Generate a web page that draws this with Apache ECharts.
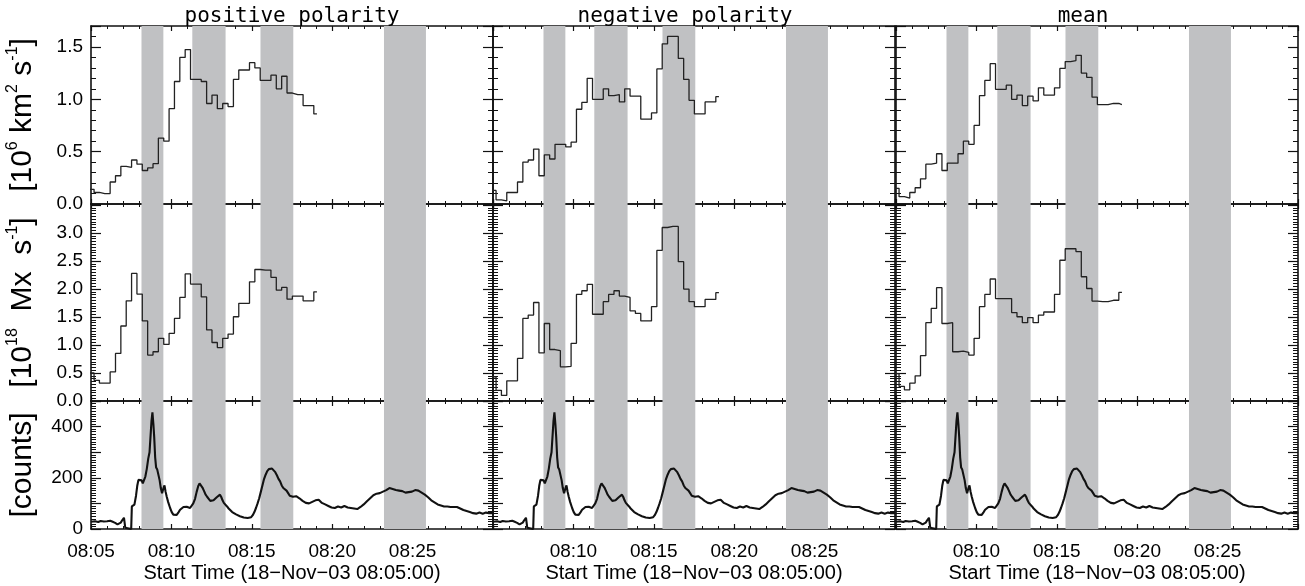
<!DOCTYPE html>
<html>
<head>
<meta charset="utf-8">
<script src="https://cdn.jsdelivr.net/npm/echarts@6/dist/echarts.min.js"></script>
<style>
html, body { margin: 0; padding: 0; background: #fff; }
#main { width: 1305px; height: 586px; }
</style>
</head>
<body>
<div id="main"></div>
<script>
// x axis: minutes after 08:05:00
var tickLabels = ['08:05', '08:10', '08:15', '08:20', '08:25'];
var xName = 'Start Time (18\u2212Nov\u221203 08:05:00)';
var panelTitles = ['positive polarity', 'negative polarity', 'mean'];
var titleCenters = [287, 680, 1078];

// shaded intervals (minutes after 08:05)
var bands = [[3.14, 4.50], [6.30, 8.37], [10.54, 12.58], [18.22, 20.83]];

// stepped curves: one value per 20 s bin, first bin starts before 08:05
var stepStart = 0.19, stepCadence = 1 / 3, stepEnd = 14.05;

// [10^6 km^2 s^-1]
var posArea = [0.14, 0.11, 0.10, 0.10, 0.21, 0.27, 0.36, 0.35, 0.42, 0.38, 0.32, 0.345, 0.385, 0.63, 0.60,
  0.91, 1.17, 1.40, 1.475, 1.19, 1.19, 1.17, 0.96, 1.04, 0.91, 0.96, 0.93, 1.19, 1.28, 1.28, 1.35, 1.30,
  1.18, 1.18, 1.23, 1.10, 1.22, 1.06, 1.045, 1.045, 0.94, 0.94, 0.86];
var negArea = [0.13, 0.04, 0.03, 0.11, 0.11, 0.21, 0.40, 0.42, 0.525, 0.27, 0.47, 0.43, 0.57, 0.57, 0.545,
  0.59, 0.905, 0.97, 1.20, 1.00, 1.00, 1.10, 1.035, 1.045, 0.975, 1.10, 1.03, 1.03, 0.81, 0.81, 0.87, 1.29,
  1.53, 1.60, 1.60, 1.39, 1.19, 0.99, 0.86, 0.86, 0.975, 0.975, 1.025];
var meanArea = [0.15, 0.07, 0.057, 0.11, 0.155, 0.24, 0.38, 0.39, 0.48, 0.32, 0.39, 0.39, 0.48, 0.60, 0.57,
  0.75, 1.035, 1.18, 1.34, 1.095, 1.095, 1.135, 1.0, 1.04, 0.94, 1.03, 0.985, 1.11, 1.04, 1.04, 1.11, 1.295,
  1.36, 1.37, 1.42, 1.25, 1.21, 1.02, 0.95, 0.95, 0.96, 0.96, 0.95];

// [10^18 Mx s^-1]
var posFlux = [0.50, 0.37, 0.32, 0.32, 0.52, 0.85, 1.34, 1.79, 2.28, 1.91, 1.43, 0.82, 0.88, 1.12, 1.01,
  1.21, 1.475, 1.85, 2.27, 2.09, 2.09, 1.86, 1.27, 1.045, 0.955, 1.12, 1.195, 1.505, 1.745, 1.745, 2.13, 2.35,
  2.34, 2.34, 2.21, 1.98, 2.03, 1.82, 1.875, 1.875, 1.79, 1.79, 1.95];
var negFlux = [0.43, 0.19, 0.10, 0.36, 0.36, 0.76, 1.475, 1.535, 1.76, 0.86, 1.385, 0.92, 0.90, 0.61, 0.62,
  1.03, 1.905, 1.97, 2.085, 1.55, 1.55, 1.775, 1.905, 1.97, 1.875, 1.85, 1.61, 1.565, 1.43, 1.43, 1.685, 2.69,
  3.10, 3.12, 3.12, 2.49, 2.0, 1.775, 1.685, 1.685, 1.815, 1.815, 1.935];
var meanFlux = [0.49, 0.26, 0.20, 0.32, 0.45, 0.81, 1.40, 1.655, 2.025, 1.385, 1.40, 0.88, 0.89, 0.87, 0.82,
  1.12, 1.685, 1.905, 2.18, 1.83, 1.83, 1.83, 1.58, 1.505, 1.40, 1.49, 1.40, 1.535, 1.59, 1.59, 1.905, 2.515,
  2.72, 2.72, 2.67, 2.22, 2.01, 1.785, 1.775, 1.775, 1.80, 1.80, 1.94];

// [counts] (same light curve in every column)
var countTimes = [0.00, 0.25, 0.45, 0.60, 0.80, 1.00, 1.20, 1.35, 1.50, 1.65, 1.75, 1.85, 1.95, 2.05, 2.10,
  2.13, 2.16, 2.50, 2.54, 2.62, 2.70, 2.80, 2.88, 2.95, 3.05, 3.15, 3.22, 3.30, 3.38, 3.47, 3.56, 3.64, 3.70,
  3.76, 3.82, 3.88, 3.93, 3.99, 4.05, 4.12, 4.19, 4.27, 4.34, 4.42, 4.50, 4.57, 4.64, 4.71, 4.80, 4.92, 5.02,
  5.12, 5.22, 5.33, 5.44, 5.54, 5.65, 5.75, 5.85, 5.95, 6.05, 6.16, 6.26, 6.36, 6.47, 6.57, 6.67, 6.75, 6.84,
  6.93, 7.02, 7.12, 7.22, 7.32, 7.42, 7.52, 7.62, 7.72, 7.82, 7.92, 8.02, 8.10, 8.18, 8.26, 8.36, 8.46, 8.56,
  8.66, 8.78, 8.90, 9.02, 9.14, 9.26, 9.38, 9.50, 9.62, 9.74, 9.86, 9.96, 10.06, 10.16, 10.26, 10.36, 10.46,
  10.56, 10.66, 10.76, 10.86, 10.96, 11.06, 11.16, 11.26, 11.36, 11.46, 11.56, 11.66, 11.76, 11.86, 11.96,
  12.06, 12.16, 12.26, 12.36, 12.46, 12.56, 12.66, 12.76, 12.86, 12.96, 13.06, 13.16, 13.26, 13.36, 13.46,
  13.56, 13.66, 13.76, 13.86, 13.96, 14.06, 14.16, 14.26, 14.36, 14.46, 14.56, 14.66, 14.76, 14.86, 14.96,
  15.06, 15.16, 15.26, 15.36, 15.46, 15.56, 15.66, 15.76, 15.86, 15.96, 16.06, 16.16, 16.26, 16.36, 16.46,
  16.56, 16.66, 16.76, 16.86, 16.96, 17.06, 17.16, 17.26, 17.36, 17.46, 17.56, 17.66, 17.76, 17.86, 17.96,
  18.06, 18.16, 18.26, 18.36, 18.46, 18.56, 18.66, 18.76, 18.86, 18.96, 19.06, 19.16, 19.26, 19.36, 19.46,
  19.56, 19.66, 19.76, 19.86, 19.96, 20.06, 20.16, 20.26, 20.36, 20.46, 20.56, 20.66, 20.76, 20.86, 20.96,
  21.06, 21.16, 21.26, 21.36, 21.46, 21.56, 21.66, 21.76, 21.86, 21.96, 22.06, 22.16, 22.26, 22.36, 22.46,
  22.56, 22.66, 22.76, 22.86, 22.96, 23.06, 23.16, 23.26, 23.36, 23.46, 23.56, 23.66, 23.76, 23.86, 23.96,
  24.06, 24.16, 24.26, 24.36, 24.46, 24.56, 24.66, 24.76, 24.86, 24.96, 25.00];
var countValues = [28, 30, 27, 31, 29, 30, 32, 28, 24, 18, 16, 25, 35, 44, 40,
  5, 0, 0, 88, 92, 95, 130, 170, 192, 195, 190, 178, 172, 205, 235, 275, 300, 360,
  420, 456, 410, 360, 280, 240, 232, 225, 190, 160, 140, 158, 170, 145, 126, 105, 82, 66,
  56, 52, 55, 65, 75, 82, 86, 90, 87, 83, 82, 88, 100, 118, 145, 168, 178, 172,
  162, 150, 135, 126, 118, 110, 106, 112, 118, 124, 128, 134, 125, 112, 102, 95, 88, 80,
  74, 66, 60, 57, 53, 50, 47, 45, 44, 43, 42, 46, 54, 66, 82, 100, 120,
  145, 170, 195, 212, 226, 234, 238, 236, 230, 222, 210, 196, 186, 170, 160,
  156, 150, 140, 130, 128, 126, 124, 128, 122, 120, 116, 110, 106, 102, 104,
  100, 102, 106, 108, 112, 110, 114, 108, 102, 98, 96, 92, 90, 86, 84,
  86, 82, 84, 88, 86, 84, 88, 90, 86, 84, 86, 82, 84, 80, 82,
  78, 82, 86, 90, 96, 102, 108, 114, 120, 126, 132, 136, 138, 136, 140,
  144, 146, 150, 152, 156, 160, 154, 156, 150, 152, 148, 150, 146, 148, 144,
  142, 146, 144, 148, 146, 150, 152, 148, 150, 146, 142, 138, 134, 130, 124,
  118, 112, 108, 104, 100, 96, 94, 92, 90, 88, 86, 88, 84, 86, 88,
  86, 90, 86, 84, 80, 78, 74, 72, 70, 68, 66, 64, 62, 64, 60,
  62, 64, 62, 60, 62, 64, 60, 62, 60, 62, 60];

var yNames = [
  '{b|[10}{s|6}{b| km}{s|2}{b| s}{s|-1}{b|]}',
  '{b|[10}{s|18}{b|  Mx  s}{s|-1}{b|]}',
  '{b|[counts]}'
];
// largest labelled value in each row
var yLabelTop = [1.5, 3.0, 400];

// layout
var colLeft = [91, 493, 896], colWidth = 402;
var rowTop = [26, 204, 401], rowHeight = [178, 197, 128];
var yMax = [1.7, 3.52, 500], yStep = [0.5, 0.5, 100], yMinorSplit = [5, 10, 10];
var stepCurves = [[posArea, negArea, meanArea], [posFlux, negFlux, meanFlux]];

function stepPoints(vals) {
  var pts = vals.map(function (v, i) { return [stepStart + (i - 1) * stepCadence, v]; });
  pts.push([stepEnd, vals[vals.length - 1]]);
  return pts;
}

var axisColor = '#111';
var labelFont = 'Liberation Sans';

var grids = [], xAxes = [], yAxes = [], series = [], titles = [];

for (var r = 0; r < 3; r++) {
  for (var c = 0; c < 3; c++) {
    var g = r * 3 + c;
    grids.push({
      left: colLeft[c], top: rowTop[r], width: colWidth, height: rowHeight[r],
      show: false, outerBoundsMode: 'none', containLabel: false
    });
    (function (r, c) {
      var xLab = {
        show: r === 2, color: '#000', fontSize: 19, fontFamily: labelFont, margin: 13,
        showMinLabel: true, showMaxLabel: false,
        formatter: function (v) {
          var i = Math.round(v / 5);
          if (Math.abs(v - i * 5) > 1e-6 || i >= tickLabels.length) return '';
          if (c > 0 && i === 0) return '';
          return tickLabels[i];
        }
      };
      ['bottom', 'top'].forEach(function (pos) {
        xAxes.push({
          type: 'value', gridIndex: g, position: pos, min: 0, max: 25, interval: 5,
          axisLine: { show: true, onZero: false, lineStyle: { color: axisColor, width: 1.6 } },
          axisTick: { show: true, inside: true, length: 5, lineStyle: { color: axisColor, width: 1.2 } },
          minorTick: { show: true, splitNumber: 5, length: 3, lineStyle: { color: axisColor, width: 1 } },
          splitLine: { show: false },
          axisLabel: pos === 'bottom' ? xLab : { show: false },
          name: (pos === 'bottom' && r === 2) ? xName : '',
          nameLocation: 'middle', nameGap: 34,
          nameTextStyle: { color: '#000', fontSize: 20, fontFamily: labelFont }
        });
      });
      ['left', 'right'].forEach(function (pos) {
        var showLab = pos === 'left' && c === 0;
        yAxes.push({
          type: 'value', gridIndex: g, position: pos, min: 0, max: yMax[r], interval: yStep[r],
          axisLine: { show: true, onZero: false, lineStyle: { color: axisColor, width: 1.6 } },
          axisTick: { show: true, inside: true, length: 10, lineStyle: { color: axisColor, width: 1.2 } },
          minorTick: { show: true, splitNumber: yMinorSplit[r], length: 5, lineStyle: { color: axisColor, width: 1 } },
          splitLine: { show: false },
          axisLabel: {
            show: showLab, color: '#000', fontSize: 19, fontFamily: labelFont, margin: 8,
            formatter: function (v) {
              if (v > yLabelTop[r] + 1e-6) return '';
              if (r === 2) return (Math.abs(v % 200) < 1e-6) ? String(v) : '';
              var q = v / 0.5;
              return Math.abs(q - Math.round(q)) < 1e-6 ? v.toFixed(1) : '';
            }
          },
          name: showLab ? yNames[r] : '',
          nameLocation: 'middle', nameRotate: 90, nameGap: 50,
          nameTextStyle: {
            rich: {
              b: { fontSize: 30, fontFamily: labelFont, color: '#000', lineHeight: 36 },
              s: { fontSize: 16, fontFamily: labelFont, color: '#000', lineHeight: 16, verticalAlign: 'top' }
            }
          }
        });
      });
    })(r, c);

    var data = r < 2 ? stepPoints(stepCurves[r][c]) : countTimes.map(function (t, i) { return [t, countValues[i]]; });
    series.push({
      type: 'line',
      xAxisIndex: 2 * g,
      yAxisIndex: 2 * g,
      data: data,
      step: r < 2 ? 'end' : false,
      showSymbol: false,
      symbol: 'none',
      clip: true,
      silent: true,
      z: 3,
      lineStyle: { color: r < 2 ? '#222' : '#111', width: r < 2 ? 1.3 : 2.1 },
      markArea: {
        silent: true,
        itemStyle: { color: '#c0c1c3' },
        data: bands.map(function (b) { return [{ xAxis: b[0] }, { xAxis: b[1] }]; })
      }
    });
  }
}

for (var k = 0; k < 3; k++) {
  titles.push({
    text: panelTitles[k], left: titleCenters[k], top: 1, textAlign: 'center',
    textStyle: { fontFamily: 'DejaVu Sans Mono', fontSize: 21, fontWeight: 'normal', color: '#000' }
  });
}

var myecharts = echarts.init(document.getElementById('main'));
myecharts.setOption({
  animation: false,
  backgroundColor: '#fff',
  title: titles,
  grid: grids,
  xAxis: xAxes,
  yAxis: yAxes,
  series: series
});
</script>
</body>
</html>
